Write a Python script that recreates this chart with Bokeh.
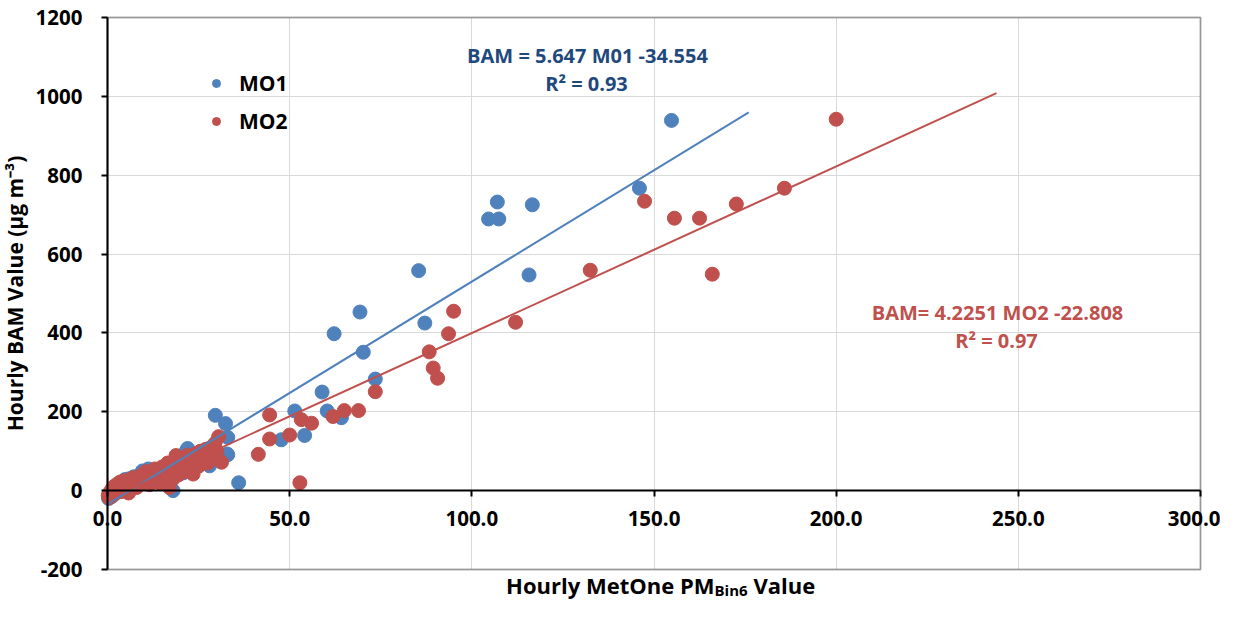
from bokeh.plotting import figure
from bokeh.models import (Range1d, FixedTicker, NumeralTickFormatter, Label, Legend,
                          LegendItem, BoxAnnotation)
from bokeh.embed import file_html
from bokeh.resources import INLINE

# ---------------- data ----------------
mo1_x = [154.8, 146.0, 107.0, 104.6, 107.4, 116.6, 115.7, 85.4, 69.3, 87.1, 62.2, 70.2, 73.5,
         58.9, 51.4, 60.3, 64.2, 54.1, 47.7, 36.0, 29.6, 32.4, 33.0, 33.0,
         0.3, 0.7, 1.2, 1.7, 2.2, 2.8, 3.3, 3.8, 4.3, 4.8, 5.3, 5.9, 6.5, 7.2, 8.0, 8.8,
         9.6, 10.4, 11.2, 12.0, 12.8, 13.6, 14.4, 15.2, 16.0, 16.8, 17.6, 18.0, 18.4, 19.2,
         20.0, 20.8, 21.6, 22.0, 22.4, 23.2, 24.0, 24.8, 25.6, 26.4, 27.2, 27.6, 28.0, 28.8,
         29.6, 30.4, 32.8]
mo1_y = [939, 767, 732, 689, 689, 725, 547, 558, 453, 425, 398, 351, 283,
         250, 202, 202, 185, 140, 129, 20, 191, 170, 135, 91,
         -20, -10, -15, 0, -6, 8, -2, 15, 22, 28, 10, 30, 18, 35, 25, 40,
         50, 38, 55, 45, 30, 52, 40, 58, 48, 35, 62, 0, 50, 70,
         60, 45, 100, 107, 75, 55, 90, 65, 85, 95, 80, 72, 63, 110,
         100, 88, 93]

mo2_x = [200.0, 185.8, 172.6, 162.5, 155.6, 147.4, 166.0, 132.5, 112.0, 95.0, 93.6, 88.3, 89.4,
         90.6, 73.5, 61.9, 65.0, 68.9, 44.5, 53.2, 56.0, 50.0, 44.5, 41.4, 52.8, 30.5, 31.3,
         27.4, 18.8,
         0.2, 0.4, 0.6, 0.9, 1.1, 1.3, 1.5, 1.8, 2.0, 2.3, 2.6, 2.9, 3.2, 3.5, 3.9, 4.2,
         4.6, 5.0, 5.4, 5.8, 6.2, 6.6, 7.0, 7.5, 8.0, 8.5, 9.0, 9.5, 10.0, 10.5,
         11.0, 11.5, 12.0, 12.5, 13.0, 13.5, 14.0, 14.5, 15.0, 15.5, 16.0, 16.5, 17.0, 17.5,
         18.0, 18.5, 19.0, 19.5, 20.0, 20.5, 21.0, 21.5, 22.0, 22.5, 23.0, 23.5, 24.0, 24.5,
         25.0, 25.5, 26.0, 26.5, 27.0, 27.5, 28.0, 28.5, 29.0, 29.5, 30.0]
mo2_y = [942, 767, 727, 691, 691, 734, 549, 559, 427, 455, 398, 352, 311,
         285, 251, 188, 203, 203, 192, 180, 171, 141, 131, 92, 20, 137, 72,
         105, 89,
         -12, -18, -5, -15, 2, -8, 8, -10, 12, 0, -4, 18, 6, 22, -2, 10,
         25, 5, 15, -6, 28, 12, 32, 20, 8, 35, 18, 40, 25, 48,
         30, 15, 42, 22, 55, 35, 50, 18, 60, 38, 45, 70, 8, 52,
         30, 62, 75, 40, 58, 80, 48, 65, 90, 55, 72, 42, 85, 95,
         62, 100, 78, 88, 105, 70, 95, 110, 85, 120, 100]

# trendline equations (as printed on the chart) and their extents
slope1, icpt1 = 5.647, -34.554
slope2, icpt2 = 4.2251, -22.808
trend1_x = [0, 176]
trend2_x = [0, 244]
trend1_y = [slope1 * v + icpt1 for v in trend1_x]
trend2_y = [slope2 * v + icpt2 for v in trend2_x]

x_ticks = [0, 50, 100, 150, 200, 250, 300]
y_ticks = [-200, 0, 200, 400, 600, 800, 1000, 1200]
series_names = ["MO1", "MO2"]
eq1_lines = ["BAM = 5.647 M01 -34.554", "R² = 0.93"]
eq2_lines = ["BAM= 4.2251 MO2 -22.808", "R² = 0.97"]
y_title = "Hourly BAM Value (µg m⁻³)"
x_title = ["Hourly MetOne PM", "Bin6", "Value"]

# ---------------- layout / styling ----------------
W, H = 1220, 601
X0, X1, Y0, Y1 = 0, 300, -200, 1200          # visible plot area (data)
PL, PR, PT, PB = 107, 1200, 17, 569           # plot area in pixels
sx = (PR - PL) / (X1 - X0)
sy = (PB - PT) / (Y1 - Y0)
x_range = Range1d(X0 - PL / sx, X1 + (W - PR) / sx)
y_range = Range1d(Y0 - (H - PB) / sy, Y1 + PT / sy)

def px2x(px):
    return X0 + (px - PL) / sx

def px2y(py):
    return Y0 + (PB - py) / sy

BLUE = "#4F81BD"
RED = "#C0504D"
DARKBLUE = "#1F497D"
FONT = "Open Sans"
GRID = "#D9D9D9"

p = figure(width=W, height=H, x_range=x_range, y_range=y_range,
           output_backend="svg", toolbar_location=None, min_border=0)
p.background_fill_color = "white"
p.border_fill_color = "white"
p.outline_line_color = None

p.xaxis.ticker = FixedTicker(ticks=x_ticks)
p.yaxis.ticker = FixedTicker(ticks=y_ticks)
p.xaxis.formatter = NumeralTickFormatter(format="0.0")
p.yaxis.formatter = NumeralTickFormatter(format="0")
p.xaxis.fixed_location = 0
p.yaxis.fixed_location = X0
p.xaxis.bounds = (X0, X1)
p.yaxis.bounds = (Y0, Y1)
p.axis.minor_tick_line_color = None
p.axis.major_tick_in = 0
p.axis.major_tick_out = 6
p.axis.axis_line_color = "black"
p.axis.axis_line_width = 2
p.axis.major_tick_line_color = "black"
p.axis.major_tick_line_width = 2
p.axis.major_label_text_font = FONT
p.axis.major_label_text_font_style = "bold"
p.axis.major_label_text_font_size = "20.5px"
p.axis.major_label_text_color = "black"
p.xaxis.major_label_standoff = 14
p.yaxis.major_label_standoff = 19

p.yaxis.axis_label = y_title
p.yaxis.axis_label_text_font = FONT
p.yaxis.axis_label_text_font_style = "bold"
p.yaxis.axis_label_text_font_size = "21px"
p.yaxis.axis_label_text_color = "black"
p.yaxis.axis_label_standoff = 4

p.grid.grid_line_color = GRID
p.grid.grid_line_width = 1
p.xgrid.bounds = (X0, X1)
p.xgrid.cross_bounds = (Y0, Y1)
p.ygrid.bounds = (Y0, Y1)
p.ygrid.cross_bounds = (X0, X1)

# plot-area border
p.add_layout(BoxAnnotation(left=X0, right=X1, bottom=Y0, top=Y1, fill_alpha=0,
                           line_color="black", line_width=2, level="underlay"))

r1 = p.scatter(mo1_x, mo1_y, size=14, fill_color=BLUE, line_color=BLUE)
r2 = p.scatter(mo2_x, mo2_y, size=14, fill_color=RED, line_color=RED)
p.line(trend1_x, trend1_y, line_color=BLUE, line_width=2)
p.line(trend2_x, trend2_y, line_color=RED, line_width=2)

legend = Legend(items=[LegendItem(label=series_names[0], renderers=[r1]),
                       LegendItem(label=series_names[1], renderers=[r2])],
                location=(206, 465), orientation="vertical")
legend.border_line_color = None
legend.background_fill_alpha = 0
legend.padding = 0
legend.margin = 0
legend.spacing = 8
legend.glyph_width = 20
legend.glyph_height = 30
legend.label_height = 30
legend.label_standoff = 13
legend.label_text_font = FONT
legend.label_text_font_style = "bold"
legend.label_text_font_size = "21px"
legend.label_text_color = "black"
p.add_layout(legend)

def add_text(x, y, txt, color, size="20px", align="center", xo=0, yo=0):
    p.add_layout(Label(x=x, y=y, text=txt, text_color=color, text_font=FONT,
                       text_font_style="bold", text_font_size=size, text_align=align,
                       text_baseline="middle", x_offset=xo, y_offset=yo))

add_text(px2x(587), px2y(55), eq1_lines[0], DARKBLUE)
add_text(px2x(586), px2y(83), eq1_lines[1], DARKBLUE)
add_text(px2x(997), px2y(312), eq2_lines[0], RED)
add_text(px2x(996), px2y(340), eq2_lines[1], RED)

# x-axis title below the plot area, with subscript
add_text(px2x(714), px2y(584), x_title[0], "black", size="22px", align="right", xo=0)
add_text(px2x(714), px2y(584), x_title[1], "black", size="15px", align="left", xo=0, yo=-5)
add_text(px2x(714), px2y(584), x_title[2], "black", size="22px", align="left", xo=39)

open("out.html", "w").write(file_html(p, INLINE))
